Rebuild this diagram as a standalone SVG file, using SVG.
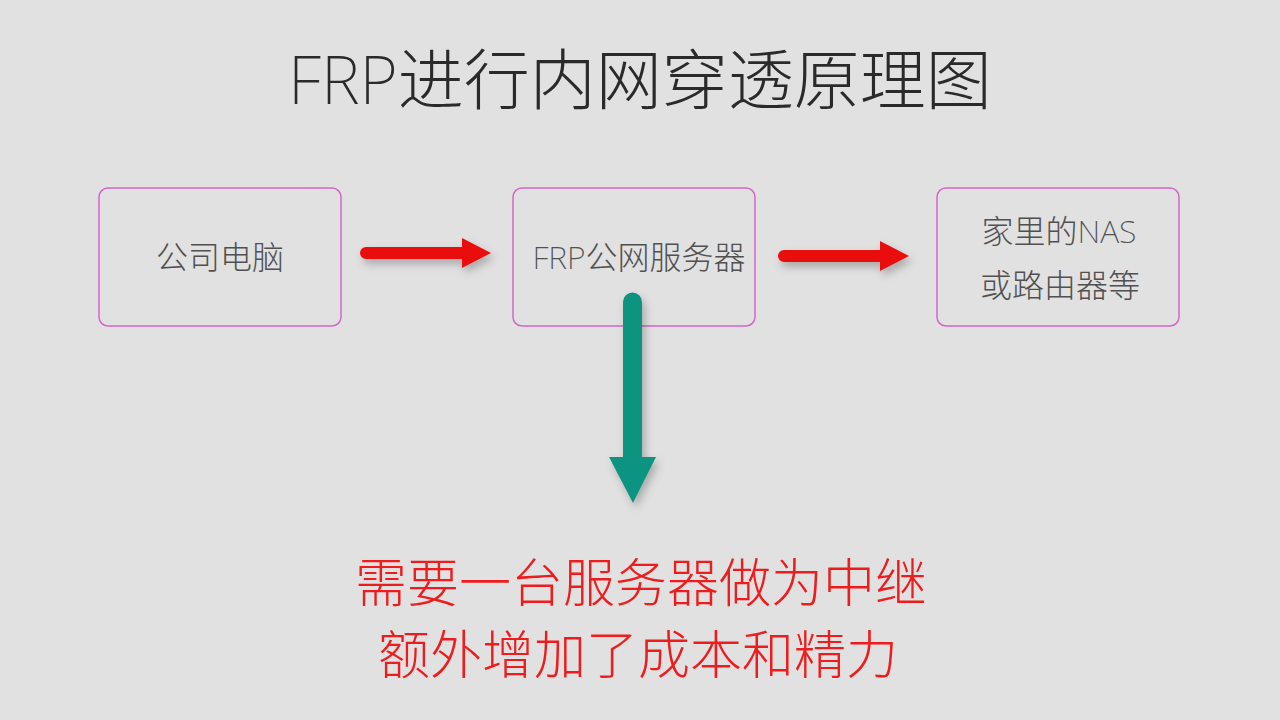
<svg xmlns="http://www.w3.org/2000/svg" width="1280" height="720" viewBox="0 0 1280 720">
<defs>
<style>
.bg{fill:#e1e1e1}
.box{fill:none;stroke:#d466c8;stroke-width:1.5}
.t{font-family:"Noto Sans","Noto Sans CJK SC",sans-serif;font-weight:200;fill:#505050;text-anchor:middle}
.title{font-size:66px;fill:#2a2a2a}
.lbl{font-size:32px}
.red{font-family:"Noto Sans CJK SC",sans-serif;font-weight:300;fill:#ee1c1c;text-anchor:middle;font-size:52px}
</style>
<filter id="sh" x="-30%" y="-30%" width="160%" height="160%">
<feDropShadow dx="3" dy="5" stdDeviation="4" flood-color="#000" flood-opacity="0.25"/>
</filter>
</defs>
<rect class="bg" width="1280" height="720"/>
<text class="t title" x="640" y="104">FRP进行内网穿透原理图</text>
<g id="node-company">
<rect class="box" x="99" y="188" width="242" height="138" rx="9"/>
<text class="t lbl" x="220" y="269">公司电脑</text>
</g>
<g id="node-server">
<rect class="box" x="513" y="188" width="242" height="138" rx="9"/>
<text class="t lbl" x="639" y="269">FRP公网服务器</text>
</g>
<g id="node-home">
<rect class="box" x="937" y="188" width="242" height="138" rx="9"/>
<text class="t lbl" x="1059" y="243">家里的NAS</text>
<text class="t lbl" x="1060" y="297">或路由器等</text>
</g>
<g id="connectors" filter="url(#sh)">
<g fill="#ea0e0e">
<path d="M366,247 H462 V238 L491,253 L462,268 V259 H366 A6,6 0 0 1 366,247 Z"/>
<path d="M784,250 H880 V241 L909,256 L880,271 V262 H784 A6,6 0 0 1 784,250 Z"/>
</g>
<path fill="#0f9480" d="M623,302 A9.5,9.5 0 0 1 642,302 V457 H656 L633,503 L609,457 H623 Z"/>
</g>
<g id="notes">
<text class="red" x="641" y="602">需要一台服务器做为中继</text>
<text class="red" x="638" y="674">额外增加了成本和精力</text>
</g>
</svg>
